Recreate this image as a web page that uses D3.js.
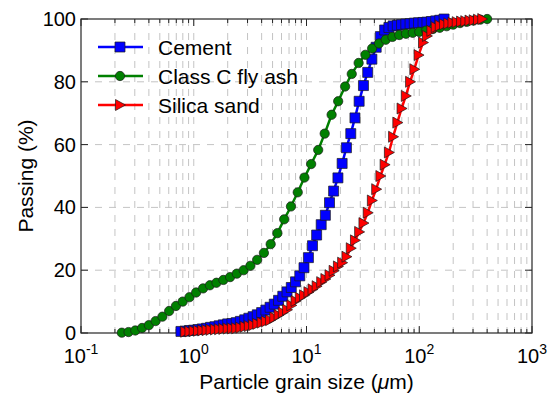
<!DOCTYPE html>
<html>
<head>
<meta charset="utf-8">
<script src="https://cdn.jsdelivr.net/npm/d3@7/dist/d3.min.js"></script>
<style>
  body { margin: 0; background: #fff; }
  svg { font-family: "Liberation Sans", Arial, Helvetica, sans-serif; }
</style>
</head>
<body>
<div id="chart"></div>
<script>
// particle size (um) and cumulative passing (%)
const cementSize = [0.77, 0.84, 0.916, 0.999, 1.09, 1.19, 1.30, 1.41, 1.54, 1.68, 1.83, 2.00, 2.18, 2.38, 2.59,
  2.83, 3.08, 3.36, 3.66, 4.00, 4.36, 4.75, 5.18, 5.65, 6.16, 6.72, 7.33, 7.99, 8.72, 9.50,
  10.4, 11.3, 12.3, 13.5, 14.7, 16.0, 17.4, 19.0, 20.7, 22.6, 24.7, 26.9, 29.3, 32.0, 34.9,
  38.0, 41.5, 45.2, 49.3, 53.8, 58.6, 63.9, 69.7, 76.0, 82.9, 90.4, 98.6, 108, 117, 128, 140, 152, 166];
const cementPassing = [0.5, 0.6, 0.8, 0.9, 1.1, 1.3, 1.5, 1.8, 2.0, 2.3, 2.6, 2.9, 3.0, 3.3, 3.7,
  4.2, 4.7, 5.2, 5.8, 6.5, 7.3, 8.2, 9.2, 10.4, 11.7, 13.1, 14.5, 16.3, 18.2, 20.8,
  24.0, 27.8, 31.2, 34.5, 37.5, 41.5, 45.2, 49.4, 54.0, 59.0, 63.5, 68.5, 73.8, 78.8, 83.0,
  87.2, 91.0, 94.4, 96.5, 97.3, 97.8, 98.0, 98.2, 98.4, 98.5, 98.7, 98.8, 98.9, 99.0, 99.2, 99.4, 99.6, 100];

const flyAshSize = [0.230, 0.264, 0.303, 0.348, 0.400, 0.459, 0.527, 0.605, 0.695, 0.798,
  0.916, 1.05, 1.21, 1.39, 1.59, 1.83, 2.10, 2.41, 2.77, 3.18,
  3.65, 4.19, 4.81, 5.52, 6.34, 7.28, 8.36, 9.59, 11.0, 12.7,
  14.5, 16.7, 19.1, 22.0, 25.2, 29.0, 33.3, 38.2, 43.9, 50.4,
  57.8, 66.4, 76.2, 87.5, 100, 115, 132, 152, 175, 200, 230, 264, 303, 348, 400];
const flyAshPassing = [0.1, 0.3, 0.8, 1.6, 2.5, 3.8, 5.2, 7.0, 8.6, 10.0,
  11.4, 12.9, 14.2, 15.2, 16.0, 16.9, 17.8, 18.9, 20.0, 21.4,
  23.3, 25.5, 28.3, 31.8, 36.2, 40.3, 44.8, 49.5, 53.8, 58.3,
  63.5, 69.5, 73.8, 78.5, 82.5, 86.0, 88.6, 90.6, 92.2, 93.4,
  94.3, 94.9, 95.3, 95.6, 95.9, 96.3, 96.8, 97.2, 97.7, 98.2, 98.7, 99.1, 99.5, 99.8, 100];

const sandSize = [0.84, 0.916, 0.999, 1.09, 1.19, 1.30, 1.41, 1.54, 1.68, 1.83, 2.00, 2.18, 2.38, 2.59,
  2.83, 3.08, 3.36, 3.66, 4.00, 4.36, 4.75, 5.18, 5.65, 6.16, 6.72, 7.33, 7.99, 8.72, 9.50,
  10.4, 11.3, 12.3, 13.5, 14.7, 16.0, 17.4, 19.0, 20.7, 22.6, 24.7, 26.9, 29.3, 32.0, 34.9,
  38.0, 41.5, 45.2, 49.3, 53.8, 58.6, 63.9, 69.7, 76.0, 82.9, 90.4, 98.6, 108, 117, 128, 140, 152, 166,
  181, 197, 215, 235, 256, 279, 304, 332, 362];
const sandPassing = [0.4, 0.5, 0.6, 0.7, 0.8, 0.9, 1.0, 1.1, 1.2, 1.3, 1.4, 1.45, 1.5, 1.7,
  2.0, 2.2, 2.5, 2.9, 3.3, 3.7, 4.1, 4.9, 5.7, 6.5, 7.4, 8.8, 10.2, 11.2, 12.0,
  13.0, 13.9, 14.9, 16.2, 17.2, 18.4, 19.8, 21.2, 22.4, 24.3, 27.0, 29.5, 32.2, 35.0, 38.3,
  42.2, 45.8, 50.0, 53.6, 57.5, 62.5, 67.0, 71.5, 75.5, 80.0, 84.0, 88.5, 92.5, 94.6, 96.2, 97.4, 97.9, 98.3,
  98.6, 98.8, 99.0, 99.2, 99.3, 99.5, 99.6, 99.8, 100];

const seriesNames = ['Cement', 'Class C fly ash', 'Silica sand'];
const xTickExponents = [-1, 0, 1, 2, 3];
const yTicks = [0, 20, 40, 60, 80, 100];

const series = [
  {name: seriesNames[0], color: '#0000ff', marker: 'square', size: cementSize, passing: cementPassing},
  {name: seriesNames[1], color: '#008000', marker: 'circle', size: flyAshSize, passing: flyAshPassing},
  {name: seriesNames[2], color: '#ff0000', marker: 'triangle', size: sandSize, passing: sandPassing}
];

const margin = {top: 19, right: 21, bottom: 60, left: 81};
const totalW = 553, totalH = 393;
const width = totalW - margin.left - margin.right;
const height = totalH - margin.top - margin.bottom;

const svg = d3.select('#chart').append('svg')
  .attr('width', totalW)
  .attr('height', totalH);

const g = svg.append('g')
  .attr('transform', 'translate(' + margin.left + ',' + margin.top + ')');

const x = d3.scaleLog().domain([0.1, 1000]).range([0, width]);
const y = d3.scaleLinear().domain([0, 100]).range([height, 0]);

// grid lines (major + minor on x, major on y)
const gridColor = '#c4c4c4';
const gridDash = '7,7';
g.selectAll('.vgrid')
  .data(x.ticks().filter(t => t > 0.1 && t < 1000))
  .enter().append('line')
  .attr('class', 'vgrid')
  .attr('x1', d => x(d)).attr('x2', d => x(d))
  .attr('y1', 0).attr('y2', height)
  .style('stroke', gridColor)
  .style('stroke-width', 1)
  .style('stroke-dasharray', gridDash);

g.selectAll('.hgrid')
  .data(yTicks.filter(t => t > 0 && t < 100))
  .enter().append('line')
  .attr('class', 'hgrid')
  .attr('x1', 0).attr('x2', width)
  .attr('y1', d => y(d)).attr('y2', d => y(d))
  .style('stroke', gridColor)
  .style('stroke-width', 1)
  .style('stroke-dasharray', gridDash);

// frame
g.append('rect')
  .attr('x', 0).attr('y', 0)
  .attr('width', width).attr('height', height)
  .style('fill', 'none')
  .style('stroke', '#262626')
  .style('stroke-width', 1.2);

// inward ticks on all four sides
const majorX = xTickExponents.map(e => Math.pow(10, e));
const minorX = x.ticks().filter(t => !majorX.some(m => Math.abs(m - t) / m < 1e-6));
function tickLines(data, len, cls) {
  [[0, len], [height, height - len]].forEach(([a, b], i) => {
    g.selectAll('.' + cls + i).data(data).enter().append('line')
      .attr('class', cls + i)
      .attr('x1', d => x(d)).attr('x2', d => x(d))
      .attr('y1', a).attr('y2', b)
      .style('stroke', '#262626').style('stroke-width', 1);
  });
}
tickLines(majorX, 7, 'xmaj');
tickLines(minorX, 4, 'xmin');
[[0, 7], [width, width - 7]].forEach(([a, b], i) => {
  g.selectAll('.ytick' + i).data(yTicks).enter().append('line')
    .attr('class', 'ytick' + i)
    .attr('x1', a).attr('x2', b)
    .attr('y1', d => y(d)).attr('y2', d => y(d))
    .style('stroke', '#262626').style('stroke-width', 1);
});

// tick labels
const fs = 20;
g.selectAll('.ylab').data(yTicks).enter().append('text')
  .attr('class', 'ylab')
  .attr('x', -5)
  .attr('y', d => y(d) + 7)
  .attr('text-anchor', 'end')
  .style('font-size', fs + 'px')
  .style('fill', '#000')
  .text(d => d);

const xl = g.selectAll('.xlab').data(xTickExponents).enter().append('text')
  .attr('class', 'xlab')
  .attr('x', d => x(Math.pow(10, d)))
  .attr('y', height + 30)
  .attr('text-anchor', 'middle')
  .style('font-size', fs + 'px')
  .style('fill', '#000');
xl.append('tspan').text('10');
xl.append('tspan')
  .attr('dy', -9)
  .style('font-size', '14px')
  .text(d => d < 0 ? '-' + Math.abs(d) : d);

// axis titles
g.append('text')
  .attr('x', width / 2)
  .attr('y', height + 56)
  .attr('text-anchor', 'middle')
  .style('font-size', '21px')
  .style('fill', '#000')
  .call(t => {
    t.append('tspan').text('Particle grain size (');
    t.append('tspan').style('font-style', 'italic').text('\u03bc');
    t.append('tspan').text('m)');
  });

g.append('text')
  .attr('transform', 'translate(' + (-48) + ',' + (height / 2) + ') rotate(-90)')
  .attr('text-anchor', 'middle')
  .style('font-size', '21px')
  .style('fill', '#000')
  .text('Passing (%)');

// markers
const markerPath = {
  square: 'M-5,-5H5V5H-5Z',
  circle: d3.symbol().type(d3.symbolCircle).size(68)(),
  triangle: 'M-4.5,-5.5L5.5,0L-4.5,5.5Z'
};

const line = d3.line()
  .x(d => x(d[0]))
  .y(d => y(d[1]));

series.forEach(s => {
  const pts = s.size.map((v, i) => [v, s.passing[i]]);
  g.append('path')
    .datum(pts)
    .attr('d', line)
    .style('fill', 'none')
    .style('stroke', s.color)
    .style('stroke-width', 2.5);
  g.selectAll('.pt-' + s.marker).data(pts).enter().append('path')
    .attr('class', 'pt-' + s.marker)
    .attr('transform', d => 'translate(' + x(d[0]) + ',' + y(d[1]) + ')')
    .attr('d', markerPath[s.marker])
    .style('fill', s.color)
    .style('stroke', '#1a1a1a')
    .style('stroke-width', 0.7);
});

// legend
const legend = g.append('g').attr('transform', 'translate(17,28)');
series.forEach((s, i) => {
  const row = legend.append('g').attr('transform', 'translate(0,' + (i * 29) + ')');
  row.append('line')
    .attr('x1', 0).attr('x2', 45)
    .style('stroke', s.color)
    .style('stroke-width', 2.5);
  row.append('path')
    .attr('transform', 'translate(22,0)')
    .attr('d', markerPath[s.marker])
    .style('fill', s.color)
    .style('stroke', '#1a1a1a')
    .style('stroke-width', 0.7);
  row.append('text')
    .attr('x', 60)
    .attr('y', 7.5)
    .style('font-size', '21px')
    .style('fill', '#000')
    .text(s.name);
});
</script>
</body>
</html>
